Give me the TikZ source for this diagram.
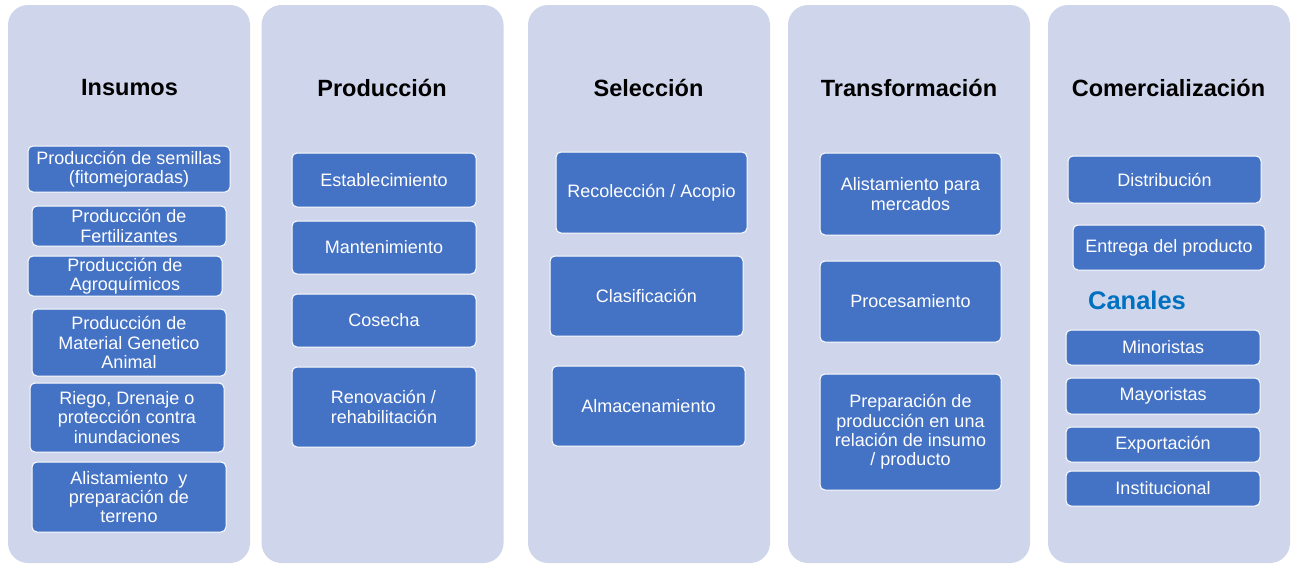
\documentclass[tikz,border=0pt]{standalone}
\usepackage{fontspec}
\setmainfont{Liberation Sans}
\definecolor{panel}{HTML}{CFD5EA}
\definecolor{caja}{HTML}{4472C4}
\definecolor{canal}{HTML}{0070C0}

\begin{document}
\begin{tikzpicture}[x=1pt, y=-1pt,
	col/.style={fill=panel, rounded corners=20pt, minimum width=242pt, minimum height=558pt},
	tit/.style={font=\fontsize{23.5}{28}\selectfont\bfseries},
	box/.style={fill=caja, draw=white, line width=1pt, rounded corners=5pt, text=white, align=center, inner sep=0pt, font=\fontsize{18}{19.2}\selectfont}]
						\useasboundingbox (0, 0) rectangle (1295, 565);
						\node[col] (ins) at (129, 284) {};
						\node[col] (pro) at (382.5, 284) {};
						\node[col] (sel) at (649, 284) {};
						\node[col] (tra) at (909, 284) {};
						\node[col] (com) at (1169, 284) {};
						\node[tit] (tins) at (129.5, 88) {Insumos};
						\node[tit] (tpro) at (382, 88) {Producción};
						\node[tit] (tsel) at (648.5, 88) {Selección};
						\node[tit] (ttra) at (909, 88) {Transformación};
						\node[tit] (tcom) at (1168.5, 88) {Comercialización};
						\node[box, minimum width=202pt, minimum height=46pt] (i1) at (129, 169) {Producción de semillas\\(fitomejoradas)};
						\node[box, minimum width=194pt, minimum height=40pt] (i2) at (129, 226) {Producción de\\Fertilizantes};
						\node[box, minimum width=194pt, minimum height=40pt] (i3) at (125, 276) {Producción de\\Agroquímicos};
						\node[box, minimum width=194pt, minimum height=67pt] (i4) at (129, 342.5) {Producción de\\Material Genetico\\Animal};
						\node[box, minimum width=194pt, minimum height=69pt] (i5) at (127, 417.5) {Riego, Drenaje o\\protección contra\\inundaciones};
						\node[box, minimum width=194pt, minimum height=70pt] (i6) at (129, 497) {Alistamiento\ \ y\\preparación de\\terreno};
						\node[box, minimum width=184pt, minimum height=54pt] (p1) at (384, 180) {Establecimiento};
						\node[box, minimum width=184pt, minimum height=53pt] (p2) at (384, 247.5) {Mantenimiento};
						\node[box, minimum width=184pt, minimum height=53pt] (p3) at (384, 320.5) {Cosecha};
						\node[box, minimum width=184pt, minimum height=80pt, align=left] (p4) at (384, 407) {Renovación /\\rehabilitación};
						\node[box, minimum width=191pt, minimum height=81pt] (s1) at (651.5, 192.5) {Recolección / Acopio};
						\node[box, minimum width=193pt, minimum height=80pt] (s2) at (646.5, 296) {Clasificación};
						\node[box, minimum width=193pt, minimum height=80pt] (s3) at (648.5, 406) {Almacenamiento};
						\node[box, minimum width=181pt, minimum height=82pt] (t1) at (910.5, 194) {Alistamiento para\\mercados};
						\node[box, minimum width=181pt, minimum height=81pt] (t2) at (910.5, 301.5) {Procesamiento};
						\node[box, minimum width=181pt, minimum height=116pt] (t3) at (910.5, 432) {Preparación de\\producción en una\\relación de insumo\\/ producto};
						\node[box, minimum width=193pt, minimum height=47pt] (c1) at (1164.5, 179.5) {Distribución};
						\node[box, minimum width=192pt, minimum height=45pt] (c2) at (1169, 247.5) {Entrega del producto};
						\node[text=canal, font=\fontsize{25.5}{30}\selectfont\bfseries] (can) at (1137, 300) {Canales};
						\node[box, minimum width=194pt, minimum height=35pt] (k1) at (1163, 347.5) {Minoristas};
						\node[box, minimum width=194pt, minimum height=36pt] (k2) at (1163, 396) {Mayoristas};
						\node[box, minimum width=194pt, minimum height=35pt] (k3) at (1163, 444.5) {Exportación};
						\node[box, minimum width=194pt, minimum height=35pt] (k4) at (1163, 488.5) {Institucional};
					\end{tikzpicture}
\end{document}
